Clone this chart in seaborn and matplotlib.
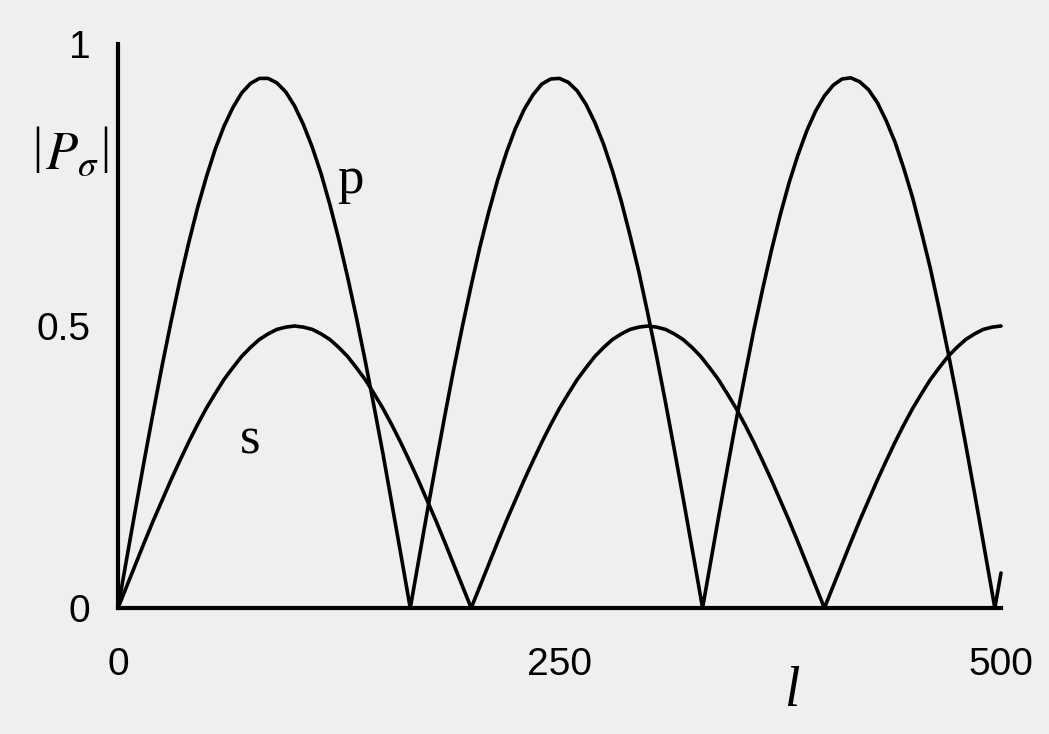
import matplotlib
matplotlib.use("Agg")
import matplotlib.pyplot as plt
import seaborn as sns
import pandas as pd

# values (|P_sigma| vs l)
l_p = [0, 5, 10, 15, 20, 25, 30, 35, 40, 45, 50, 55, 60, 65, 70, 75, 80, 85, 90, 95, 100,
       105, 110, 115, 120, 125, 130, 135, 140, 145, 150, 155, 160, 165.5,
       170, 175, 180, 185, 190, 195, 200, 205, 210, 215, 220, 225, 230, 235, 240, 245, 250,
       255, 260, 265, 270, 275, 280, 285, 290, 295, 300, 305, 310, 315, 320, 325, 330, 331,
       335, 340, 345, 350, 355, 360, 365, 370, 375, 380, 385, 390, 395, 400, 405, 410, 415,
       420, 425, 430, 435, 440, 445, 450, 455, 460, 465, 470, 475, 480, 485, 490, 495, 496.5, 500]
p_vals = [0, .089, .177, .264, .348, .430, .507, .580, .647, .709, .764, .813, .854, .887, .913,
          .930, .939, .939, .931, .915, .890, .857, .817, .770, .715, .654, .587, .515, .438,
          .357, .274, .186, .098, 0,
          .080, .169, .255, .340, .422, .499, .572, .641, .703, .759, .808, .850, .884, .910,
          .929, .938, .939, .932, .917, .893, .861, .822, .775, .721, .660, .595, .522, .446,
          .365, .281, .195, .107, .018, 0,
          .071, .160, .247, .332, .413, .492, .565, .634, .697, .754, .803, .846, .881, .908,
          .927, .938, .940, .933, .919, .896, .864, .826, .779, .727, .666, .602, .530, .454,
          .374, .290, .204, .116, .027, 0, .062]

l_s = list(range(0, 505, 5))
s_vals = [0, .039, .078, .117, .155, .191, .227, .261, .294, .325, .354, .380, .405, .426, .446,
          .462, .476, .486, .494, .498, .5, .498, .494, .486, .476, .462, .446, .426, .405, .380,
          .354, .325, .294, .261, .227, .191, .155, .117, .078, .039,
          0, .039, .078, .117, .155, .191, .227, .261, .294, .325, .354, .380, .405, .426, .446,
          .462, .476, .486, .494, .498, .5, .498, .494, .486, .476, .462, .446, .426, .405, .380,
          .354, .325, .294, .261, .227, .191, .155, .117, .078, .039,
          0, .039, .078, .117, .155, .191, .227, .261, .294, .325, .354, .380, .405, .426, .446,
          .462, .476, .486, .494, .498, .5]

x_ticks = [0, 250, 500]
y_ticks = [0, 0.5, 1]
y_tick_labels = ["0", "0.5", "1"]

df = pd.concat([
    pd.DataFrame({"l": l_p, "P": p_vals, "pol": "p"}),
    pd.DataFrame({"l": l_s, "P": s_vals, "pol": "s"}),
])

sns.set_style("white")
plt.rcParams["mathtext.fontset"] = "stix"
plt.rcParams["text.color"] = "black"
bg = "#efefef"
fig = plt.figure(figsize=(10.49, 7.34), dpi=100, facecolor=bg)
ax = fig.add_axes([118 / 1049, 126 / 734, 883 / 1049, 564 / 734])
ax.set_facecolor(bg)

sns.lineplot(data=df, x="l", y="P", hue="pol", palette={"p": "black", "s": "black"},
             estimator=None, sort=False, legend=False, ax=ax)
for line in ax.get_lines():
    line.set_clip_on(False)
    line.set_linewidth(2.6)
    line.set_solid_joinstyle("round")

ax.set_xlim(0, 500)
ax.set_ylim(0, 1)
sns.despine(ax=ax)
for side in ["left", "bottom"]:
    ax.spines[side].set_linewidth(3)
    ax.spines[side].set_color("black")

ax.set_xticks(x_ticks)
ax.set_xticklabels([str(t) for t in x_ticks])
ax.set_yticks(y_ticks)
ax.set_yticklabels(y_tick_labels)
ax.tick_params(axis="both", length=0, labelsize=28, labelcolor="black")
ax.tick_params(axis="x", pad=28)
ax.tick_params(axis="y", pad=20)
for lab in ax.get_xticklabels() + ax.get_yticklabels():
    lab.set_family("Liberation Sans")
ax.set_xlabel("")
ax.set_ylabel("")

# curve labels and axis names, placed as in the figure
fig.text(350 / 1049, 1 - 180 / 734, "p", family="Liberation Serif", fontsize=38,
         ha="center", va="center", color="black")
fig.text(250 / 1049, 1 - 440 / 734, "s", family="Liberation Serif", fontsize=38,
         ha="center", va="center", color="black")
# y-axis name |P_sigma| with tall bars
fig.text(72 / 1049, 1 - 154 / 734, r"$P_\sigma$", fontsize=38,
         ha="center", va="center", color="black")
for bx in [37, 105]:
    fig.text(bx / 1049, 1 - 150 / 734, "|", family="Liberation Serif", fontsize=36,
             ha="center", va="center", color="black")
fig.text(792 / 1049, 1 - 692 / 734, "l", family="Liberation Serif", style="italic",
         fontsize=40, ha="center", va="center", color="black")

fig.savefig("out.png", dpi=100, facecolor=bg)
